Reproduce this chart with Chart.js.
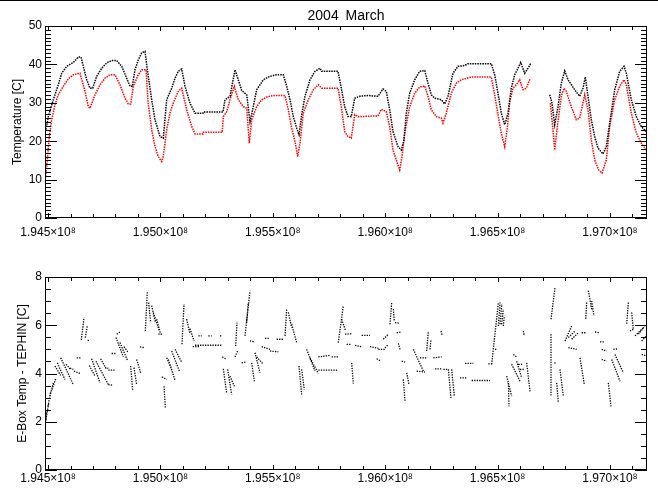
<!DOCTYPE html>
<html>
<head>
<meta charset="utf-8">
<title>2004 March</title>
<script src="https://cdn.jsdelivr.net/npm/chart.js@4.4.1/dist/chart.umd.min.js"></script>
<style>
    body { margin: 0; background: #fff; overflow: hidden; }
    #page { position: relative; width: 658px; height: 495px; }
    #topLine { position: absolute; left: 0; top: 0; width: 658px; height: 1px; background: #000; z-index: 2; }
    #title { position: absolute; left: 246px; top: 7px; width: 200px; text-align: center;
             font: 14px "Liberation Sans", Arial, sans-serif; word-spacing: 3px; line-height: 16px; color: #000; z-index: 2; }
    canvas { position: absolute; left: 0; }
    #tempChart { top: 0; }
    #diffChart { top: 247px; }
</style>
</head>
<body>
<div id="page">
    <div id="topLine"></div>
    <div id="title">2004 March</div>
    <canvas id="tempChart" width="658" height="247"></canvas>
    <canvas id="diffChart" width="658" height="248"></canvas>
</div>
<script>
// time axis: seconds since 1998-01-01, March 2004
const T0 = 194486400;
const T1 = 197164800;
const DAY = 86400;

const xMajor = [1.945e8, 1.950e8, 1.955e8, 1.960e8, 1.965e8, 1.970e8];
const tempTicks = [0, 10, 20, 30, 40, 50];
const diffTicks = [0, 2, 4, 6, 8];

// E-Box temperature (black), day of March -> deg C
const eboxDay = [0.05,0.17,0.427,0.685,0.86,1.117,1.457,1.715,1.854,2.147,
    2.317,2.456,2.662,2.92,3.177,3.435,3.692,3.95,4.207,4.377,
    4.496,4.635,4.804,4.98,5.15,5.268,5.494,5.664,5.922,6.092,
    6.267,6.524,6.694,6.864,7.039,7.209,7.467,7.724,8.136,8.15,
    9.166,9.269,9.527,9.784,9.954,10.129,10.387,10.556,10.726,10.901,
    11.241,11.586,11.931,12.271,12.446,12.616,12.786,12.961,13.08,13.219,
    13.389,13.646,13.904,14.161,14.248,15.088,15.258,15.433,15.603,15.773,
    15.948,16.205,16.633,17.148,17.405,17.575,17.75,17.92,18.178,18.348,
    18.487,18.605,18.78,19.038,19.295,19.553,19.723,19.893,20.068,20.408,
    20.583,20.752,21.01,21.267,21.612,21.782,22.982,23.157,23.327,23.497,
    23.672,23.842,24.012,24.187,24.357,24.496,24.702,24.872,25.011,25.5,
    25.99,26.108,26.247,26.417,26.587,26.762,26.932,27.277,27.534,27.704,
    27.823,27.962,28.132,28.307,28.477,28.734,28.904,29.079,29.337,29.594,
    29.816,29.934,30.192,30.449,30.707,30.964];
const eboxTemp = [23.0,26.4,30.8,34.7,37.7,39.5,40.5,41.9,41.9,36.0,
    33.8,33.8,36.9,39.0,40.4,41.0,41.0,39.5,36.4,34.3,
    34.3,38.6,41.2,43.0,43.4,38.6,30.8,25.6,21.2,20.8,
    30.8,33.8,36.4,38.2,38.8,34.3,29.9,27.3,27.3,27.6,
    27.6,30.8,31.7,38.6,36.0,33.2,32.1,25.1,29.0,33.4,
    36.0,36.9,37.3,37.3,34.3,30.8,26.4,23.4,21.7,26.9,
    31.7,36.0,38.2,39.0,38.2,38.2,33.8,29.0,26.4,26.4,
    31.2,31.7,31.9,31.7,33.6,33.0,28.2,22.5,18.6,17.7,
    20.3,27.3,32.5,36.0,38.2,38.4,35.1,32.1,31.2,30.8,
    29.7,31.7,37.7,39.5,39.7,40.2,40.2,37.3,32.5,27.3,
    24.3,27.3,33.8,37.3,39.0,40.5,37.7,39.0,40.2,null,
    32.1,29.9,24.3,29.0,35.1,38.3,36.0,33.4,31.7,33.8,
    36.7,31.7,25.6,21.2,18.2,16.7,18.6,24.7,33.4,38.2,
    39.5,37.7,30.8,26.4,23.8,22.5];

// TEPHIN (red)
const tephinDay = [0,0.118,0.221,0.345,0.515,0.685,0.942,1.2,1.457,1.802,
    2.06,2.23,2.317,2.575,2.832,3.09,3.347,3.605,3.862,4.12,
    4.29,4.413,4.547,4.804,4.98,5.201,5.319,5.494,5.664,5.834,
    6.009,6.092,6.267,6.437,6.607,6.864,7.039,7.297,7.554,7.724,
    7.982,8.136,8.15,9.124,9.182,9.357,9.527,9.748,9.954,10.211,
    10.387,10.52,10.644,10.901,11.159,11.416,11.756,12.359,12.529,12.704,
    12.874,13.013,13.131,13.301,13.559,13.816,14.073,14.248,15.088,15.258,
    15.433,15.603,15.773,15.948,16.118,17.148,17.318,17.575,17.75,17.92,
    18.09,18.265,18.384,18.523,18.78,19.038,19.295,19.553,19.723,19.893,
    20.15,20.408,20.495,20.665,20.922,21.18,21.437,21.952,22.982,23.157,
    23.327,23.497,23.672,23.806,23.93,24.1,24.27,24.445,24.615,24.785,
    24.991,25.5,26.021,26.16,26.247,26.381,26.587,26.726,26.844,27.102,
    27.359,27.534,27.792,27.962,28.132,28.307,28.513,28.683,28.904,29.079,
    29.337,29.594,29.816,29.934,30.192,30.449,30.707,30.964];
const tephinTemp = [9.5,15.1,21.2,25.6,29.5,32.1,34.3,36.2,37.3,37.7,
    33.0,29.0,28.6,32.1,34.7,36.4,37.3,37.3,34.7,31.2,
    29.7,29.7,34.3,37.3,38.6,38.6,29.5,23.0,18.6,16.0,
    14.7,16.1,23.0,27.4,30.0,33.0,33.8,28.2,23.8,21.9,
    21.9,21.9,22.3,22.3,26.4,27.7,30.8,34.3,30.8,29.0,
    28.6,19.5,25.6,29.0,30.8,31.5,31.9,31.9,28.2,23.4,
    19.9,16.0,19.5,27.3,30.8,33.4,34.7,33.8,33.8,29.0,
    22.5,21.2,20.8,26.9,26.4,26.6,28.3,27.7,23.8,17.7,
    15.1,12.5,16.0,22.1,29.0,32.5,34.1,34.4,31.7,28.2,
    26.4,26.0,24.7,27.3,32.5,35.1,36.0,36.7,36.7,32.1,
    26.9,22.1,18.6,23.4,30.3,33.8,34.7,36.0,33.4,33.8,
    36.4,null,29.9,23.0,17.7,23.8,31.7,33.8,33.0,29.0,
    25.6,26.0,32.1,28.2,20.3,15.1,12.5,11.7,15.1,23.8,
    30.8,34.3,36.0,34.7,27.3,22.1,19.5,17.7];

// E-Box minus TEPHIN: short streaks of samples [startDay, startVal, endDay, endVal]
const diffStreaks = [
    [0.00,1.81,0.086,2.43],[0.051,2.08,0.19,2.78],[0.154,2.64,0.292,3.26],[0.257,3.06,0.429,3.61],
    [0.36,3.33,0.566,3.82],[0.515,4.31,0.807,3.92],[0.635,4.44,1.03,3.75],[0.807,4.65,1.459,3.54],
    [1.081,4.38,1.322,4.17],[1.288,4.22,1.459,4.17],[1.493,4.10,1.802,4.00],[1.631,4.65,1.837,4.65],
    [1.871,5.39,2.008,6.32],[2.077,5.49,2.18,5.97],[2.197,5.38,2.317,5.35],[2.283,4.33,2.575,3.89],
    [2.403,4.61,2.832,3.61],[2.626,4.51,3.261,3.54],[2.866,4.61,3.175,4.17],[3.09,4.24,3.261,4.21],
    [3.261,4.14,3.605,4.14],[3.261,3.54,3.519,3.51],[3.433,4.83,3.69,4.83],[3.69,5.63,3.862,5.72],
    [3.656,5.49,4.034,4.69],[3.862,5.28,4.24,4.56],[4.068,5.11,4.291,4.86],[4.411,4.31,4.514,3.31],
    [4.583,4.24,4.72,3.54],[4.72,4.58,4.926,4.03],[4.892,5.10,5.15,5.07],[5.166,5.76,5.27,7.39],
    [5.338,6.94,5.441,6.11],[5.493,6.81,5.682,6.11],[5.579,6.53,5.888,5.76],[5.751,6.25,5.957,5.63],
    [5.837,5.63,6.06,5.63],[6.129,3.47,6.198,2.57],[6.026,3.86,6.267,3.75],[6.267,4.65,6.524,4.17],
    [6.352,4.58,6.695,3.72],[6.524,4.93,6.918,4.10],[6.695,5.00,7.038,4.47],[7.055,5.21,7.157,6.88],
    [7.296,6.25,7.467,5.63],[7.467,5.86,7.673,5.35],[7.604,5.11,7.982,5.11],[7.724,5.17,9.097,5.17],
    [7.896,5.56,8.067,5.56],[8.411,5.56,8.582,5.56],[9.011,5.56,9.132,5.56],[9.132,4.69,9.303,4.61],
    [9.183,4.19,9.355,3.19],[9.406,4.17,9.612,3.13],[9.526,3.89,9.749,3.47],[9.818,5.14,9.887,6.11],
    [10.299,5.56,10.556,7.43],[10.385,6.11,10.47,6.94],[9.784,4.69,9.921,4.93],[10.127,4.44,10.333,4.47],
    [10.556,5.35,10.779,5.31],[10.642,4.44,10.779,3.68],[10.814,4.86,11.071,4.03],[10.9,4.69,11.243,4.38],
    [11.157,5.11,11.586,5.00],[11.586,4.93,12.015,4.90],[11.329,5.46,11.586,5.46],[11.929,5.42,12.273,5.42],
    [12.359,5.56,12.444,6.67],[12.53,6.53,12.702,5.90],[12.702,6.04,12.96,5.28],[13.08,4.31,13.217,3.13],
    [13.217,4.17,13.354,3.33],[13.474,5.00,13.903,4.10],[13.646,4.65,14.075,4.00],[14.075,4.69,14.676,4.75],
    [14.762,4.69,15.139,4.69],[14.075,4.14,15.105,4.14],[15.105,5.28,15.363,6.81],[15.277,6.25,15.482,5.76],
    [15.448,5.63,15.792,5.65],[15.534,5.21,15.792,5.21],[15.792,4.44,15.877,3.58],[15.964,5.17,16.307,5.11],
    [16.307,5.58,16.736,5.58],[16.736,5.11,17.166,5.04],[17.166,5.00,17.509,5.00],[17.509,5.06,17.68,5.21],
    [17.08,4.61,17.303,4.51],[17.423,5.42,17.68,5.63],[17.766,6.04,17.852,6.94],[17.938,6.67,17.989,6.18],
    [18.024,6.11,18.281,6.08],[18.11,5.69,18.367,5.72],[18.196,5.25,18.281,5.00],[18.453,3.75,18.539,2.85],
    [18.625,4.03,18.745,3.54],[18.367,4.51,18.539,4.47],[18.968,5.00,19.483,4.10],[19.139,4.10,19.569,4.06],
    [19.311,4.65,19.654,4.65],[19.654,4.93,19.74,5.76],[19.826,5.00,19.878,5.42],[19.997,4.65,20.427,4.69],
    [20.083,4.19,20.427,4.19],[20.513,4.17,20.77,4.17],[20.77,4.17,20.907,2.99],[20.942,4.17,21.079,3.06],
    [20.393,5.76,20.461,5.56],[21.371,3.82,21.714,3.82],[21.628,4.42,22.058,4.42],[21.972,3.71,22.916,3.71],
    [22.83,4.40,23.087,4.40],[23.002,4.38,23.346,6.94],[23.431,6.04,23.517,6.88],[23.345,5.97,23.431,6.94],
    [23.516,6.04,23.602,6.67],[23.602,5.97,23.654,6.39],[23.173,5.00,23.259,5.00],[23.86,3.61,23.894,2.64],
    [23.774,3.89,24.031,3.06],[24.031,4.38,24.46,3.68],[24.289,4.51,24.546,3.82],[24.375,4.38,24.58,4.38],
    [24.46,4.17,24.718,4.17],[24.117,4.79,24.289,4.69],[24.804,4.44,24.975,3.26],[24.632,5.76,24.683,5.56],
    [26.057,6.25,26.263,7.57],[26.057,5.63,26.057,3.06],[26.349,3.61,26.434,2.78],[26.52,4.17,26.692,3.06],
    [26.228,4.44,26.349,4.42],[26.778,5.35,27.121,5.97],[26.949,5.49,27.293,5.76],[27.121,5.42,27.465,5.69],
    [27.636,5.69,27.893,5.69],[26.949,5.07,27.379,5.00],[27.55,4.65,27.773,3.54],[27.893,6.94,27.842,6.25],
    [27.979,7.43,28.151,6.67],[28.151,7.01,28.271,6.39],[28.323,5.72,28.58,5.69],[28.58,5.31,28.837,5.31],
    [28.666,5.00,28.923,4.93],[28.666,4.58,28.923,4.51],[29.009,3.61,29.146,2.64],[29.181,4.58,29.61,3.68],
    [29.352,4.79,29.782,4.03],[29.267,5.00,29.524,5.03],[30.039,6.94,29.953,6.04],[30.21,6.53,30.296,5.83],
    [30.125,5.76,30.296,5.83],[30.382,5.56,30.811,5.90],[30.554,5.63,30.897,5.97],[30.725,5.35,30.983,5.56],
    [30.725,4.79,30.983,4.72],[30.983,4.17,31.0,3.75]
];

Chart.defaults.font.family = '"Liberation Sans", Arial, sans-serif';
Chart.defaults.font.size = 12;
Chart.defaults.color = '#000';

// IDL style box: frame plus inward ticks on all four sides
const idlFrame = {
    id: 'idlFrame',
    afterDraw(chart, args, o) {
        const { ctx, chartArea: a } = chart;
        const xs = chart.scales.x, ys = chart.scales.y;
        ctx.save();
        ctx.strokeStyle = '#000';
        ctx.lineWidth = 1;
        ctx.strokeRect(a.left + 0.5, a.top + 0.5, a.right - a.left - 1, a.bottom - a.top - 1);
        ctx.beginPath();
        for (let v = xMajor[0]; v <= xs.max; v += 1e5) {
            const px = Math.round(xs.getPixelForValue(v)) + 0.5;
            const len = (v % 5e5 === 0) ? 5 : 4;
            ctx.moveTo(px, a.bottom); ctx.lineTo(px, a.bottom - len);
            ctx.moveTo(px, a.top); ctx.lineTo(px, a.top + len);
        }
        for (let v = ys.min; v <= ys.max + 1e-9; v += o.yMinor) {
            const py = Math.round(ys.getPixelForValue(v)) + 0.5;
            const major = Math.abs(v / o.yMajor - Math.round(v / o.yMajor)) < 1e-6;
            const len = major ? 12 : 6;
            ctx.moveTo(a.left, py); ctx.lineTo(a.left + len, py);
            ctx.moveTo(a.right, py); ctx.lineTo(a.right - len, py);
        }
        ctx.stroke();
        ctx.restore();
    }
};

function xScale(axisHeight, pad) {
    return {
        type: 'linear', min: T0, max: T1,
        grid: { display: false, drawTicks: false },
        border: { display: false },
        afterBuildTicks: axis => { axis.ticks = xMajor.map(v => ({ value: v })); },
        afterFit: axis => { axis.height = axisHeight; },
        ticks: {
            autoSkip: false, maxRotation: 0, padding: pad,
            callback: v => (v / 1e8).toFixed(3) + '×10⁸'
        }
    };
}

function yScale(ticks, title, titlePad) {
    return {
        min: ticks[0], max: ticks[ticks.length - 1],
        grid: { display: false, drawTicks: false },
        border: { display: false },
        afterBuildTicks: axis => { axis.ticks = ticks.map(v => ({ value: v })); },
        afterFit: axis => { axis.width = 45; },
        ticks: { padding: 3 },
        title: { display: true, text: title, padding: { top: titlePad, bottom: 0 } }
    };
}

const toPoints = (days, vals) => days.map((d, i) => ({ x: T0 + d * DAY, y: vals[i] }));

const diffPoints = [];
diffStreaks.forEach(([d0, v0, d1, v1]) => {
    diffPoints.push({ x: T0 + d0 * DAY, y: v0 }, { x: T0 + d1 * DAY, y: v1 }, { x: T0 + d1 * DAY, y: null });
});

const lineStyle = { borderWidth: 1.5, borderDash: [1.5, 1], pointRadius: 0, tension: 0, spanGaps: false, fill: false };

const tempChart = new Chart(document.getElementById('tempChart'), {
    type: 'line',
    data: {
        datasets: [
            { label: 'E-Box Temp', data: toPoints(eboxDay, eboxTemp), borderColor: '#000000', ...lineStyle },
            { label: 'TEPHIN', data: toPoints(tephinDay, tephinTemp), borderColor: '#ff0000', ...lineStyle }
        ]
    },
    options: {
        responsive: false,
        animation: false,
        layout: { padding: { top: 26, right: 11, left: 0, bottom: 0 } },
        plugins: { legend: { display: false }, tooltip: { enabled: false }, idlFrame: { yMajor: 10, yMinor: 1 } },
        scales: { x: xScale(29, 7), y: yScale(tempTicks, 'Temperature [C]', 10) }
    },
    plugins: [idlFrame]
});

const diffChart = new Chart(document.getElementById('diffChart'), {
    type: 'line',
    data: {
        datasets: [
            { label: 'E-Box Temp - TEPHIN', data: diffPoints, borderColor: '#000000', ...lineStyle, borderWidth: 1.3, borderDash: [1.3, 1.2] }
        ]
    },
    options: {
        responsive: false,
        animation: false,
        layout: { padding: { top: 30, right: 11, left: 0, bottom: 0 } },
        plugins: { legend: { display: false }, tooltip: { enabled: false }, idlFrame: { yMajor: 2, yMinor: 0.5 } },
        scales: { x: xScale(25, 1), y: yScale(diffTicks, 'E-Box Temp - TEPHIN [C]', 15) }
    },
    plugins: [idlFrame]
});
</script>
</body>
</html>
